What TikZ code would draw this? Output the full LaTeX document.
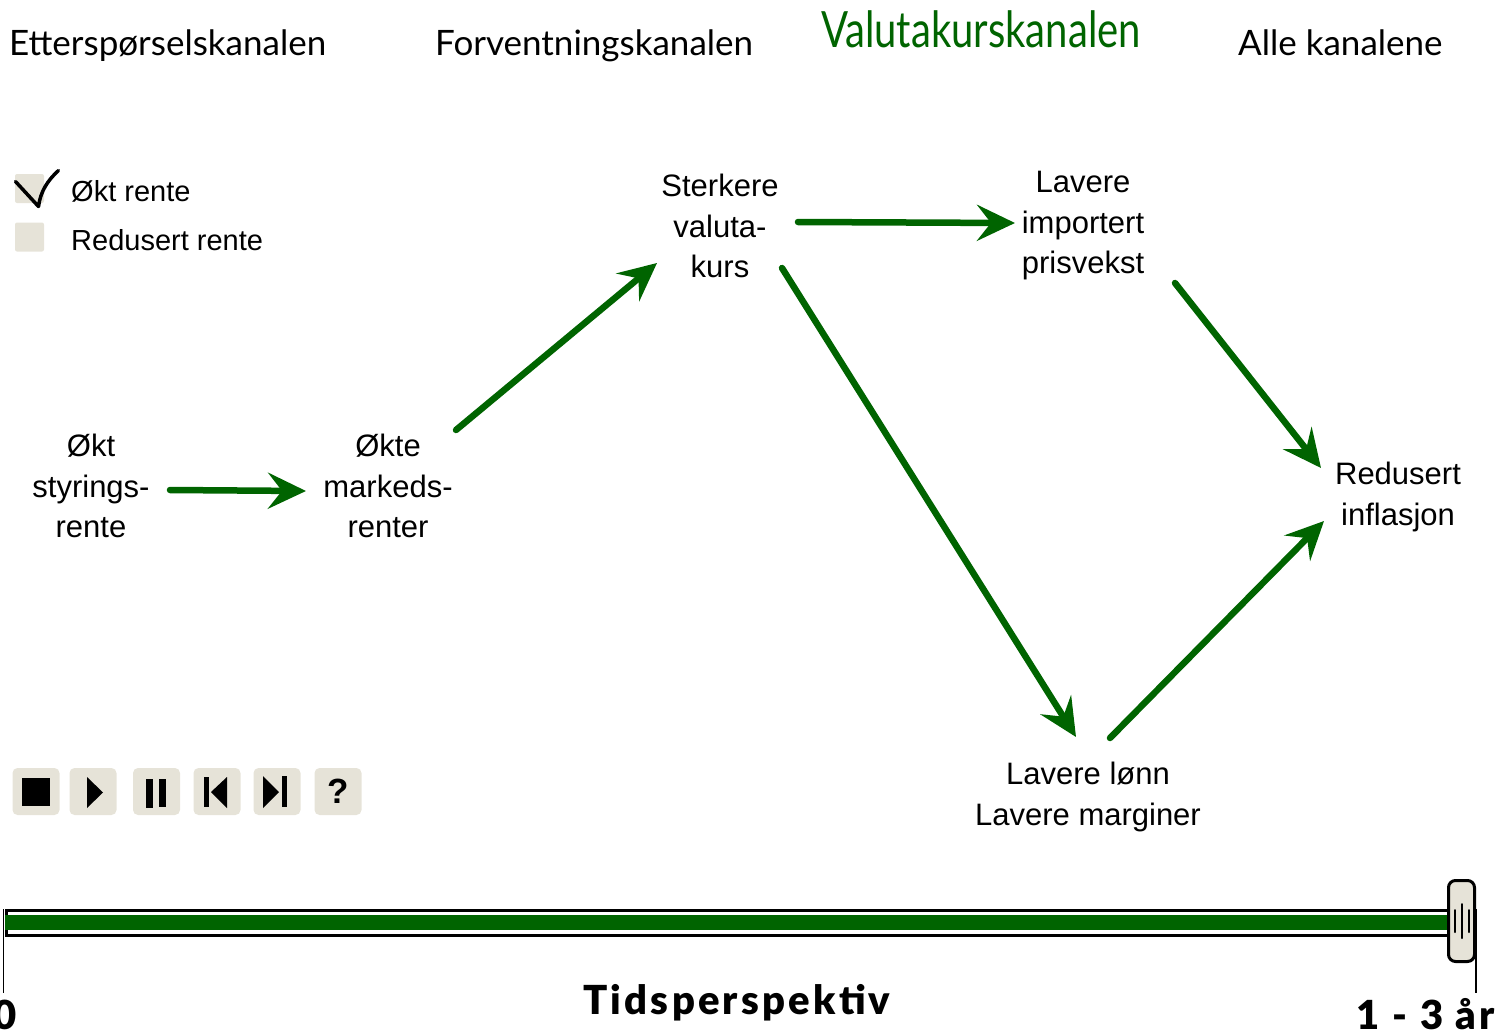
\documentclass[tikz,border=0pt]{standalone}
\usepackage{fontspec}
\usetikzlibrary{arrows.meta,calc}
\setmainfont{Liberation Sans}
\newfontfamily\gillfont{Lato}
\newfontfamily\gillbold[LetterSpace=8]{Lato Black}
\definecolor{flowgreen}{RGB}{0,100,0}
\definecolor{panelbeige}{RGB}{230,227,216}
\tikzset{
  x=1pt,y=-1pt,
  flow/.style={draw=flowgreen,line width=6.5pt,line cap=round,-{Stealth[length=38pt,width=36pt,inset=14pt,fill=flowgreen]}},
  label/.style={align=center,font=\fontsize{31}{40.5}\selectfont,inner sep=0pt},
  legendtext/.style={anchor=west,font=\fontsize{29}{34}\selectfont,inner sep=0pt},
  heading/.style={font=\gillfont\fontsize{35}{40}\selectfont,inner sep=0pt},
  axistext/.style={font=\gillbold\fontsize{40}{44}\selectfont,inner sep=0pt},
  btn/.style={fill=panelbeige,draw=none,rounded corners=5pt,minimum width=47pt,minimum height=47pt,inner sep=0pt},
  swatch/.style={fill=panelbeige,draw=none,rounded corners=2pt,minimum width=29pt,minimum height=29pt,inner sep=0pt},
  glyph/.style={fill=black,draw=none},
}
\begin{document}
\begin{tikzpicture}
\useasboundingbox (0,0) rectangle (1501,1033);
% headings
\node[heading,anchor=base west] (h1) at (9,56) {Etterspørselskanalen};
\node[heading,anchor=base west] (h2) at (435,56) {Forventningskanalen};
\node[heading,anchor=base west,text=flowgreen,font=\gillfont\fontsize{50}{54}\selectfont,xscale=0.8] (h3) at (821,48) {Valutakurskanalen};
\node[heading,anchor=base west] (h4) at (1238,56) {Alle kanalene};
% legend
\node[swatch] (s1) at (29.5,188.5) {};
\node[swatch] (s2) at (29.5,237) {};
\node[legendtext] (l1) at (71,191) {Økt rente};
\node[legendtext] (l2) at (71,240) {Redusert rente};
\draw[line width=3.5pt,line cap=round,line join=round] ([shift={(-14,-7)}]s1.center) -- ([shift={(9,18)}]s1.center) .. controls ([shift={(11,3)}]s1.center) and ([shift={(18,-8)}]s1.center) .. ([shift={(29,-18)}]s1.center);
% flow nodes
\node[label] (rente) at (91,486) {Økt\\styrings-\\rente};
\node[label] (mark) at (388,486) {Økte\\markeds-\\renter};
\node[label] (sterk) at (720,226) {Sterkere\\valuta-\\kurs};
\node[label] (imp) at (1083,226) {Lavere\\importert\\prisvekst};
\node[label] (lonn) at (1088,797) {Lavere lønn\\Lavere marginer};
\node[label] (infl) at (1398,497) {Redusert\\inflasjon};
% connectors
\path[flow] ([shift={(79,4)}]rente.center) -- ([shift={(-82,5)}]mark.center);
\path[flow] ([shift={(68,-56)}]mark.center) -- ([shift={(-63,37)}]sterk.center);
\path[flow] ([shift={(78,-4)}]sterk.center) -- ([shift={(-68,-3)}]imp.center);
\path[flow] ([shift={(62,42)}]sterk.center) -- ([shift={(-12,-60)}]lonn.center);
\path[flow] ([shift={(92,57)}]imp.center) -- ([shift={(-77,-29)}]infl.center);
\path[flow] ([shift={(22,-59)}]lonn.center) -- ([shift={(-74,24)}]infl.center);
% control buttons
\node[btn] (b1) at (36,791.5) {};
\node[btn] (b2) at (93,791.5) {};
\node[btn] (b3) at (156.5,791.5) {};
\node[btn] (b4) at (217,791.5) {};
\node[btn] (b5) at (277,791.5) {};
\node[btn] (b6) at (338,791.5) {\bfseries\fontsize{35}{35}\selectfont ?};
\fill[glyph] (22,778) rectangle (50,806);
\fill[glyph] (87,777) -- (103,792.5) -- (87,808) -- cycle;
\fill[glyph] (146,779) rectangle (153,808);
\fill[glyph] (159,779) rectangle (166,807);
\fill[glyph] (204,777) rectangle (209,807);
\fill[glyph] (227,777) -- (211,792) -- (227,808) -- cycle;
\fill[glyph] (263,776) -- (279,792) -- (263,808) -- cycle;
\fill[glyph] (282,776) rectangle (287,807);
% timeline
\draw[line width=3pt] (6,910) rectangle (1451,935);
\fill[flowgreen] (5,914.5) rectangle (1450,930);
\draw[line width=1.5pt] (3.5,909) -- (3.5,993);
\draw[line width=1.5pt] (1476,909) -- (1476,993);
\node[draw=black,line width=3pt,fill=panelbeige,rounded corners=7pt,minimum width=26pt,minimum height=81pt,inner sep=0pt] (thumb) at (1461.5,921) {};
\draw[line width=2pt,line cap=round] ([xshift=-7]thumb.center) ++(0,-11) -- ++(0,22);
\draw[line width=2pt,line cap=round] (thumb.center) ++(0,-17) -- ++(0,34);
\draw[line width=2pt,line cap=round] ([xshift=7]thumb.center) ++(0,-11) -- ++(0,22);
% axis labels
\node[axistext,anchor=base] (ax) at (737,1014) {Tidsperspektiv};
\node[axistext,anchor=base] (a0) at (5,1029) {0};
\node[axistext,anchor=base east] (a1) at (1495,1029) {1 - 3 år};
\end{tikzpicture}
\end{document}
